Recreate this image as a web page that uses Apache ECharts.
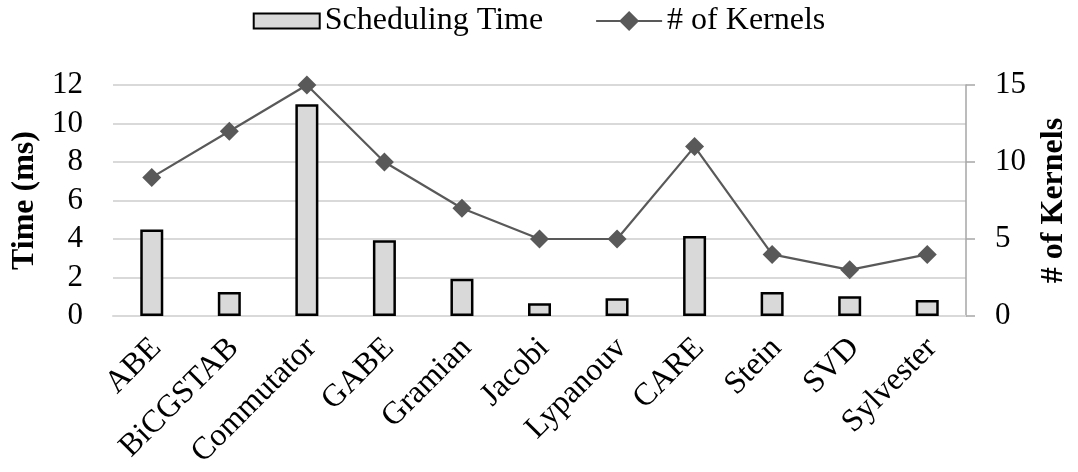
<!DOCTYPE html>
<html>
<head>
<meta charset="utf-8">
<script src="https://cdn.jsdelivr.net/npm/echarts@6/dist/echarts.min.js"></script>
<style>
  html, body { margin: 0; padding: 0; background: #fff; }
  #chart { width: 1078px; height: 472px; }
</style>
</head>
<body>
<div id="chart"></div>
<script>
// Benchmarks on the x axis
const categories = ['ABE', 'BiCGSTAB', 'Commutator', 'GABE', 'Gramian', 'Jacobi',
                    'Lypanouv', 'CARE', 'Stein', 'SVD', 'Sylvester'];
// Scheduling time per benchmark (ms), left axis
const schedulingTime = [4.5, 1.25, 11.0, 3.93, 1.93, 0.66, 0.92, 4.15, 1.25, 1.02, 0.83];
// Number of kernels per benchmark, right axis
const kernelCount = [9, 12, 15, 10, 7, 5, 5, 11, 4, 3, 4];

const FONT = '"Liberation Serif", "Times New Roman", serif';

const chart = echarts.init(document.getElementById('chart'), null, { renderer: 'canvas' });

chart.setOption({
  animation: false,
  backgroundColor: '#ffffff',
  textStyle: { fontFamily: FONT, color: '#000' },
  legend: {
    top: 0,
    left: 'center',
    itemWidth: 66,
    itemHeight: 25,
    itemGap: 52,
    textStyle: { fontFamily: FONT, fontSize: 32, color: '#000' },
    data: [
      { name: 'Scheduling Time', icon: 'path://M0,0H66V15H0Z' },
      { name: '# of Kernels' }
    ]
  },
  grid: { left: 113, right: 112, top: 85, bottom: 156, outerBoundsMode: 'none', containLabel: false },
  xAxis: {
    type: 'category',
    data: categories,
    axisLine: { show: true, lineStyle: { color: '#d9d9d9', width: 2 } },
    axisTick: { show: false },
    axisLabel: {
      rotate: 45,
      interval: 0,
      margin: 17,
      verticalAlign: 'top',
      lineHeight: 21,
      padding: [0, 4, 0, 0],
      fontFamily: FONT,
      fontSize: 32,
      color: '#000'
    }
  },
  yAxis: [
    {
      type: 'value',
      min: 0,
      max: 12,
      interval: 2,
      name: 'Time (ms)',
      nameLocation: 'middle',
      nameGap: 71,
      nameTextStyle: { fontFamily: FONT, fontSize: 32, fontWeight: 'bold', color: '#000' },
      axisLine: { show: false },
      axisTick: { show: false },
      axisLabel: { margin: 30, fontFamily: FONT, fontSize: 31, color: '#000' },
      splitLine: { show: true, lineStyle: { color: '#d9d9d9', width: 2 } }
    },
    {
      type: 'value',
      min: 0,
      max: 15,
      interval: 5,
      position: 'right',
      name: '# of Kernels',
      nameLocation: 'middle',
      nameGap: 72,
      nameRotate: 90,
      nameTextStyle: { fontFamily: FONT, fontSize: 32, fontWeight: 'bold', color: '#000' },
      axisLine: { show: true, lineStyle: { color: '#a6a6a6', width: 1.5 } },
      axisTick: { show: true, inside: false, length: 9, lineStyle: { color: '#a6a6a6', width: 1.5 } },
      axisLabel: { margin: 29, fontFamily: FONT, fontSize: 31, color: '#000' },
      splitLine: { show: false }
    }
  ],
  series: [
    {
      name: 'Scheduling Time',
      type: 'bar',
      yAxisIndex: 0,
      data: schedulingTime,
      barWidth: 23,
      itemStyle: { color: '#d9d9d9', borderColor: '#000', borderWidth: 2.5 }
    },
    {
      name: '# of Kernels',
      type: 'line',
      yAxisIndex: 1,
      data: kernelCount,
      symbol: 'diamond',
      symbolSize: 19,
      lineStyle: { color: '#595959', width: 2.2 },
      itemStyle: { color: '#595959' },
      z: 3
    }
  ]
});
</script>
</body>
</html>
